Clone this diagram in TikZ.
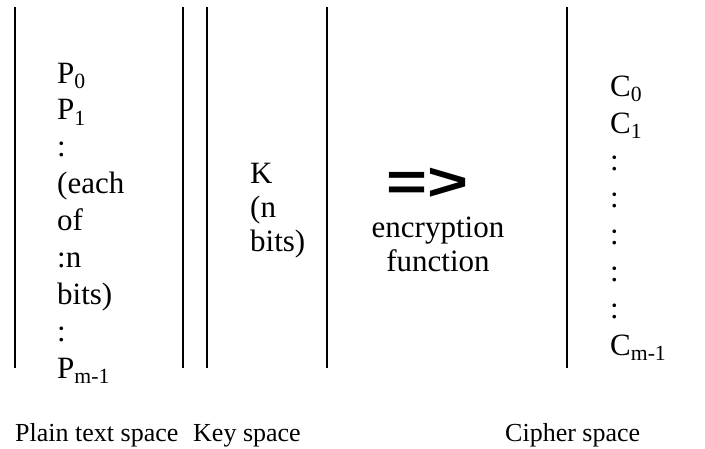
\documentclass[tikz,border=0pt]{standalone}
\usepackage{fontspec}
\setmainfont{Liberation Serif}
\newfontfamily\arrowfont{Liberation Sans}

\begin{document}
\begin{tikzpicture}[x=1pt,y=-1pt,
  every node/.style={inner sep=0pt, anchor=base west, font=\fontsize{31}{36}\selectfont},
  spacename/.style={font=\fontsize{26}{30}\selectfont},
  divider/.style={line width=1.3pt}]
\useasboundingbox (0,0) rectangle (705,448);
% dividers between the spaces
\foreach \x/\n in {15/d1,183/d2,207/d3,327/d4,567/d5}
  \draw[divider] (\x,7) coordinate (\n-top) -- (\x,368) coordinate (\n-bot);

% plain text column
\foreach \t [count=\i from 0] in {{P\textsubscript{0}},{P\textsubscript{1}},{:},{(each},{of},{:n},{bits)},{:},{P\textsubscript{m-1}}}
  \node (p\i) at (57,83+36.9*\i) {\t};

% key column
\foreach \t [count=\i from 0] in {{K},{(n},{bits)}}
  \node (k\i) at (250,183+34*\i) {\t};

% encryption function
\node[anchor=base, xscale=1.3, font=\arrowfont\bfseries\fontsize{54}{60}\selectfont] (arrow) at (427,200) {=>};
\node[anchor=base] (enc) at (438,237) {encryption};
\node[anchor=base] (fun) at (438,271) {function};

% cipher column
\foreach \t [count=\i from 0] in {{C\textsubscript{0}},{C\textsubscript{1}},{:},{:},{:},{:},{:},{C\textsubscript{m-1}}}
  \node (c\i) at (610,96+37*\i) {\t};

% names of the spaces
\node[spacename] (plain) at (15,441) {Plain text space};
\node[spacename] (key) at (193,441) {Key space};
\node[spacename] (cipher) at (505,441) {Cipher space};
\end{tikzpicture}
\end{document}
